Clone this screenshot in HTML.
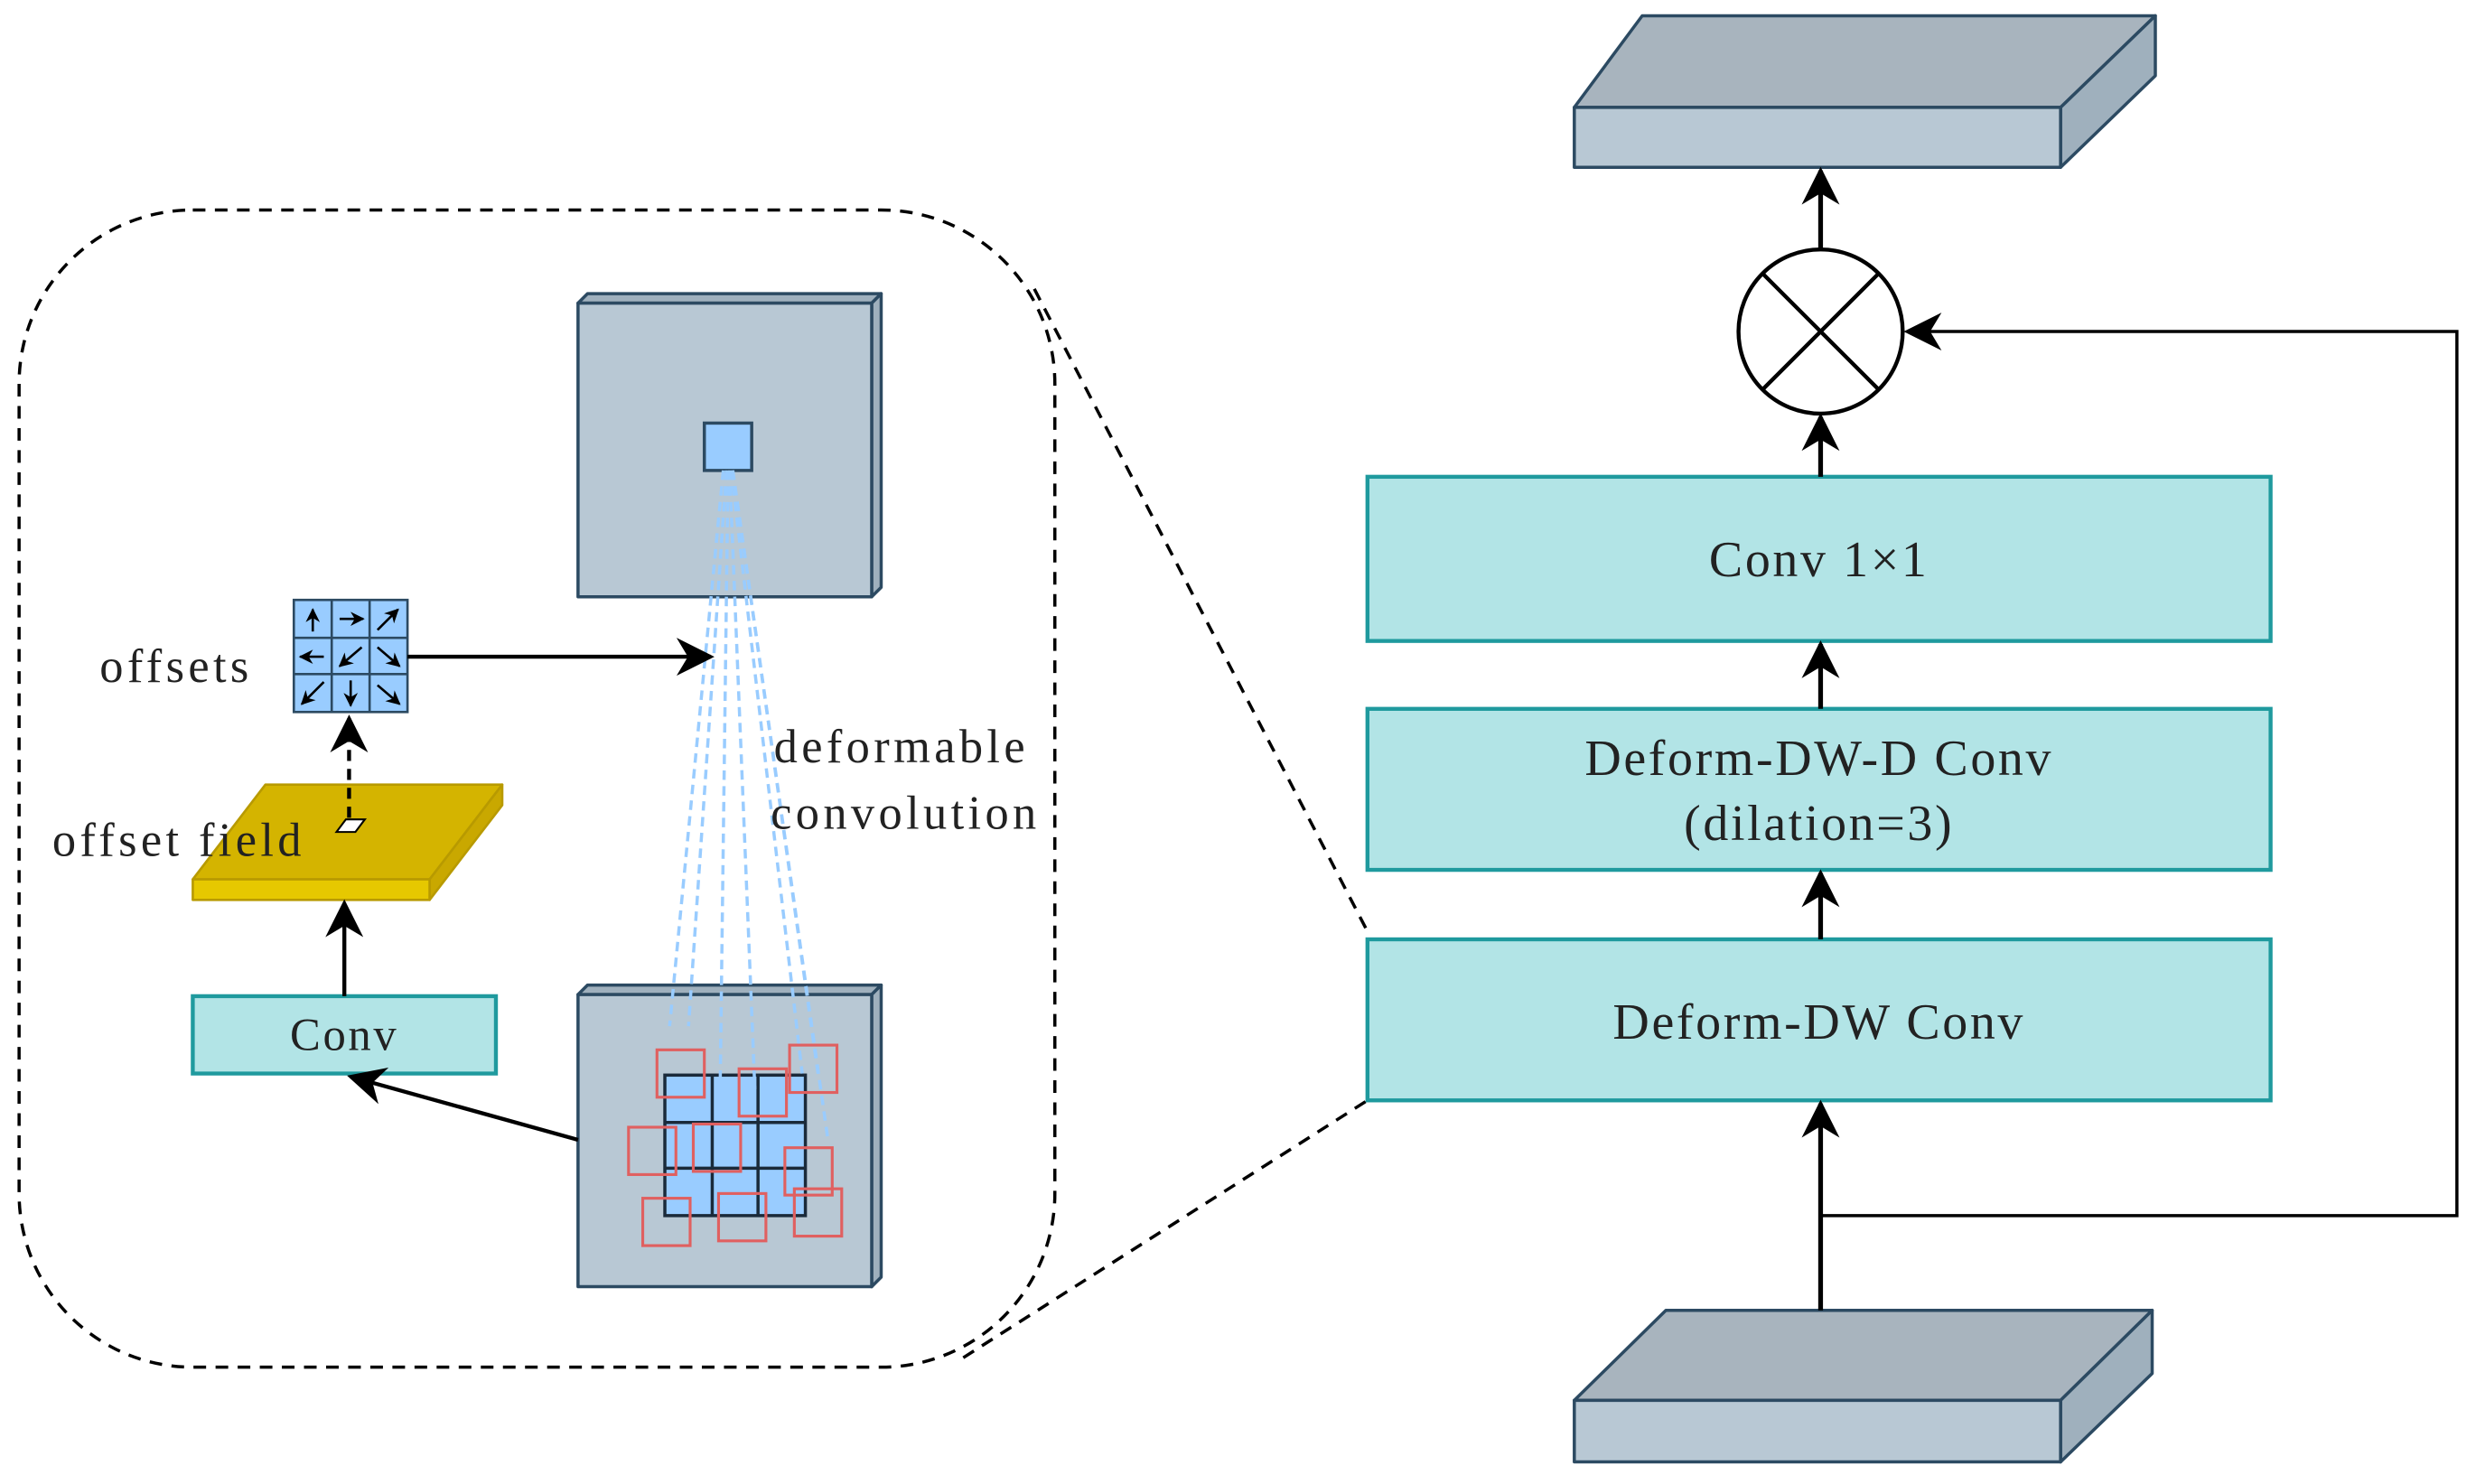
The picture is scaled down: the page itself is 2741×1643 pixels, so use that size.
<!DOCTYPE html>
<html><head><meta charset="utf-8"><style>html,body{margin:0;padding:0;background:#fff}svg{display:block}</style></head><body>
<svg width="2741" height="1643" viewBox="0 0 1568 940" xmlns="http://www.w3.org/2000/svg" font-family="Liberation Serif, serif">
<defs>
<marker id="ah" viewBox="0 0 10 10" refX="9" refY="5" markerWidth="9" markerHeight="9" markerUnits="userSpaceOnUse" orient="auto"><path d="M0,0 L10,5 L0,10 L3,5 z" fill="#000"/></marker>
<marker id="ahb" viewBox="0 0 10 10" refX="9" refY="5" markerWidth="24" markerHeight="24" markerUnits="userSpaceOnUse" orient="auto"><path d="M0,0 L10,5 L0,10 L3,5 z" fill="#000"/></marker>
</defs>
<rect width="1568" height="940" fill="#fff"/>

<g stroke="#2c4a62" stroke-width="2" stroke-linejoin="round">
<polygon points="997,68 1040,10 1365,10 1305,68" fill="#a8b4be"/>
<polygon points="1305,68 1365,10 1365,48 1305,106" fill="#9fb0bd"/>
<rect x="997" y="68" width="308" height="38" fill="#b8c8d4"/>
</g>
<g stroke="#2c4a62" stroke-width="2" stroke-linejoin="round">
<polygon points="997,887 1055,830 1363,830 1305,887" fill="#a8b4be"/>
<polygon points="1305,887 1363,830 1363,870 1305,926" fill="#9fb0bd"/>
<rect x="997" y="887" width="308" height="39" fill="#b8c8d4"/>
</g>

<circle cx="1153" cy="210" r="52" fill="#fff" stroke="#000" stroke-width="2.5"/>
<line x1="1116" y1="173" x2="1190" y2="247" stroke="#000" stroke-width="2.5"/>
<line x1="1190" y1="173" x2="1116" y2="247" stroke="#000" stroke-width="2.5"/>

<g fill="#b2e4e6" stroke="#1f9a9e" stroke-width="2.5">
<rect x="866" y="302" width="572" height="104"/>
<rect x="866" y="449" width="572" height="102"/>
<rect x="866" y="595" width="572" height="102"/>
</g>
<g font-size="32" fill="#222" text-anchor="middle" letter-spacing="1.5">
<text x="1152" y="365">Conv 1×1</text>
<text x="1152" y="491">Deform-DW-D Conv</text>
<text x="1152" y="532">(dilation=3)</text>
<text x="1152" y="658">Deform-DW Conv</text>
</g>

<g stroke="#000" stroke-width="3" fill="none">
<line x1="1153" y1="158" x2="1153" y2="108" marker-end="url(#ahb)"/>
<line x1="1153" y1="302" x2="1153" y2="264" marker-end="url(#ahb)"/>
<line x1="1153" y1="449" x2="1153" y2="408" marker-end="url(#ahb)"/>
<line x1="1153" y1="595" x2="1153" y2="553" marker-end="url(#ahb)"/>
<line x1="1153" y1="830" x2="1153" y2="699" marker-end="url(#ahb)"/>
<polyline points="1153,770 1556,770 1556,210 1208,210" stroke-width="2" marker-end="url(#ahb)"/>
</g>

<rect x="12" y="133" width="656" height="733" rx="110" ry="110" fill="none" stroke="#000" stroke-width="2" stroke-dasharray="8,6"/>
<line x1="655" y1="183" x2="866" y2="590" stroke="#000" stroke-width="2" stroke-dasharray="8,6"/>
<line x1="610" y1="860" x2="866" y2="697" stroke="#000" stroke-width="2" stroke-dasharray="8,6"/>

<g stroke="#2c4a62" stroke-width="2" fill="#b8c8d4" stroke-linejoin="round">
<polygon points="366,192 372,186 558,186 552,192" fill="#9fb0bd"/>
<polygon points="552,192 558,186 558,372 552,378" fill="#9fb0bd"/>
<rect x="366" y="192" width="186" height="186"/>
<polygon points="366,630 372,624 558,624 552,630" fill="#9fb0bd"/>
<polygon points="552,630 558,624 558,809 552,815" fill="#9fb0bd"/>
<rect x="366" y="630" width="186" height="185"/>
</g>
<rect x="446" y="268" width="30" height="30" fill="#99ccff" stroke="#2c4a62" stroke-width="2"/>

<g stroke="#1a2a3a" stroke-width="2">
<rect x="421" y="681" width="89" height="89" fill="#99ccff"/>
<line x1="451" y1="681" x2="451" y2="770"/><line x1="480" y1="681" x2="480" y2="770"/>
<line x1="421" y1="711" x2="510" y2="711"/><line x1="421" y1="740" x2="510" y2="740"/>
</g>
<g stroke="#99ccff" stroke-width="2" stroke-dasharray="6,4" fill="none">
<line x1="458" y1="298" x2="424" y2="650"/>
<line x1="460" y1="298" x2="436" y2="650"/>
<line x1="461" y1="298" x2="456" y2="690"/>
<line x1="462" y1="298" x2="478" y2="690"/>
<line x1="463" y1="298" x2="508" y2="680"/>
<line x1="464" y1="298" x2="518" y2="680"/>
<line x1="464" y1="298" x2="524" y2="720"/>
</g>
<g fill="none" stroke="#e06060" stroke-width="1.8">
<rect x="416" y="665" width="30" height="30"/>
<rect x="500" y="662" width="30" height="30"/>
<rect x="468" y="677" width="30" height="30"/>
<rect x="398" y="714" width="30" height="30"/>
<rect x="439" y="712" width="30" height="30"/>
<rect x="497" y="727" width="30" height="30"/>
<rect x="407" y="759" width="30" height="30"/>
<rect x="455" y="756" width="30" height="30"/>
<rect x="503" y="753" width="30" height="30"/>
</g>

<g stroke="#2c4a62" stroke-width="1.5">
<rect x="186" y="380" width="72" height="71" fill="#99ccff"/>
<line x1="210" y1="380" x2="210" y2="451"/><line x1="234" y1="380" x2="234" y2="451"/>
<line x1="186" y1="404" x2="258" y2="404"/><line x1="186" y1="427" x2="258" y2="427"/>
</g>
<g stroke="#000" stroke-width="1.5">
<line x1="198" y1="400" x2="198" y2="386" marker-end="url(#ah)"/>
<line x1="215" y1="392" x2="230" y2="392" marker-end="url(#ah)"/>
<line x1="239" y1="399" x2="252" y2="386" marker-end="url(#ah)"/>
<line x1="205" y1="416" x2="190" y2="416" marker-end="url(#ah)"/>
<line x1="229" y1="410" x2="215" y2="422" marker-end="url(#ah)"/>
<line x1="239" y1="410" x2="253" y2="422" marker-end="url(#ah)"/>
<line x1="205" y1="432" x2="191" y2="446" marker-end="url(#ah)"/>
<line x1="222" y1="431" x2="222" y2="447" marker-end="url(#ah)"/>
<line x1="239" y1="434" x2="253" y2="446" marker-end="url(#ah)"/>
</g>

<g stroke="#b89a00" stroke-width="1.5" stroke-linejoin="round">
<polygon points="122,557 168,497 318,497 272,557" fill="#d4b400"/>
<polygon points="272,557 318,497 318,510 272,570" fill="#c9a800"/>
<rect x="122" y="557" width="150" height="13" fill="#e6c800"/>
</g>
<polygon points="213,527 219,519 231,519 225,527" fill="#fff" stroke="#000" stroke-width="1.2"/>

<rect x="122" y="631" width="192" height="49" fill="#b2e4e6" stroke="#1f9a9e" stroke-width="2.5"/>
<text x="218" y="665" font-size="29" text-anchor="middle" fill="#222" letter-spacing="1.5">Conv</text>

<g stroke="#000" stroke-width="2.5" fill="none">
<line x1="258" y1="416" x2="450" y2="416" marker-end="url(#ahb)"/>
<line x1="221" y1="518" x2="221" y2="455" stroke-dasharray="7,5" marker-end="url(#ahb)"/>
<line x1="218" y1="631" x2="218" y2="572" marker-end="url(#ahb)"/>
<line x1="366" y1="722" x2="222" y2="682" marker-end="url(#ahb)"/>
</g>

<g font-size="30" fill="#222" letter-spacing="2.5">
<text x="63" y="432">offsets</text>
<text x="33" y="542">offset field</text>
<text x="490" y="483">deformable</text>
<text x="488" y="525">convolution</text>
</g>
</svg>
</body></html>
